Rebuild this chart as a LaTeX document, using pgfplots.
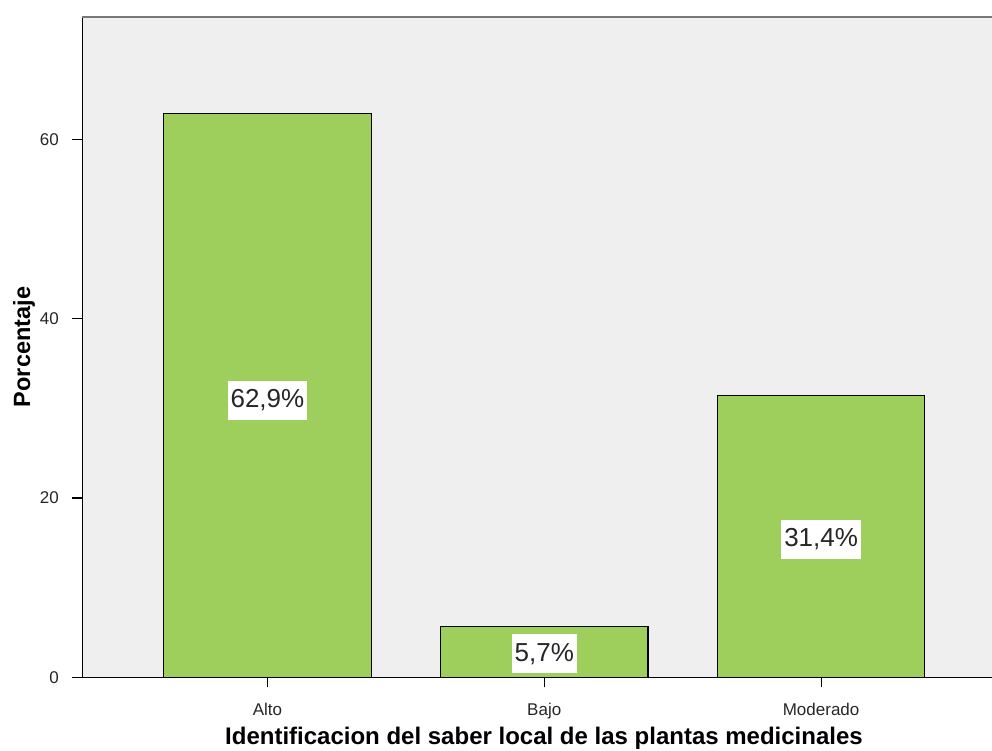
\documentclass[border=0pt]{standalone}
\usepackage{pgfplots}
\pgfplotsset{compat=1.18}
\usepackage{fontspec}
\setmainfont{Liberation Sans}
\definecolor{bargreen}{RGB}{158,207,92}
\definecolor{bggray}{RGB}{239,239,239}
\definecolor{topgray}{RGB}{120,120,120}
\begin{document}
\begin{tikzpicture}
\useasboundingbox (-82.5pt,-72.7pt) rectangle (909.5pt,677.3pt);
\begin{axis}[
  at={(0pt,0pt)}, anchor=south west,
  scale only axis, width=909.5pt, height=660.6pt,
  xmin=-0.6679, xmax=2.6173, ymin=0, ymax=73.67,
  clip=false,
  axis x line*=bottom, axis y line*=left,
  axis line style={line width=1.3pt, black},
  axis background/.style={fill=bggray},
  xtick={0,1,2}, xticklabels={Alto,Bajo,Moderado},
  ytick={0,20,40,60},
  tick align=outside, major tick length=10pt,
  tick style={line width=1.2pt, black},
  tick label style={font=\fontsize{17}{19}\selectfont, inner sep=0pt, text=black!85},
  yticklabel style={anchor=east, xshift=-13.5pt},
  xticklabel style={anchor=north, yshift=-15.7pt},
  /pgf/number format/assume math mode=true,
  xlabel={Identificacion del saber local de las plantas medicinales},
  xlabel style={font=\bfseries\fontsize{24}{28}\selectfont, at={(axis description cs:0.5074,-0.101)}, anchor=base},
  ylabel={Porcentaje},
  ylabel style={font=\bfseries\fontsize{23.5}{28}\selectfont, at={(axis description cs:-0.0577,0.5)}, anchor=base},
]
\addplot[ybar, bar width=0.7491, fill=bargreen, draw=black, line width=1.2pt]
  coordinates {(0,62.9) (1,5.7) (2,31.4)};
\addplot[draw=none, mark=none, nodes near coords, point meta=explicit symbolic,
  nodes near coords style={anchor=center, fill=white, inner xsep=3pt, inner ysep=0pt,
    minimum height=39pt, font=\fontsize{26}{30}\selectfont, text=black!85}]
  coordinates {(0,30.87)[62,9\%] (1,2.6)[5,7\%] (2,15.37)[31,4\%]};
\draw[topgray, line width=2pt] (rel axis cs:0,1) -- (rel axis cs:1,1);
\end{axis}
\end{tikzpicture}
\end{document}
